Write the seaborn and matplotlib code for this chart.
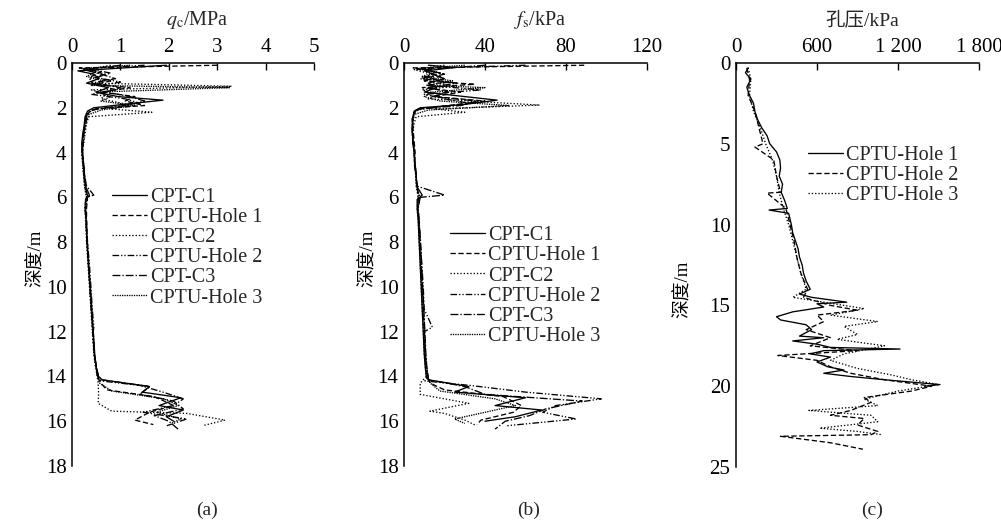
import matplotlib
matplotlib.use("Agg")
import matplotlib.pyplot as plt
import seaborn as sns
import pandas as pd

# ---------------- data ----------------
# CPT-C1
d_c1 = [0.1, 0.2, 0.35, 0.5, 0.7, 0.9, 1.1, 1.3, 1.5, 1.66, 1.85, 2.0, 2.15, 2.4, 2.8, 3.2, 3.6, 4.0, 4.5, 5.0,
        5.5, 5.9, 6.1, 6.5, 7.0, 8.0, 9.0, 10.0, 11.0, 12.0, 13.0, 13.6, 14.0, 14.15, 14.45, 14.7, 14.95, 15.3,
        15.5, 15.8, 16.0]
qc_c1 = [1.95, 1.2, 0.12, 0.45, 0.55, 0.3, 0.75, 0.5, 0.95, 1.88, 1.05, 0.45, 0.32, 0.27, 0.25, 0.22, 0.2, 0.21,
         0.24, 0.26, 0.28, 0.36, 0.28, 0.27, 0.29, 0.31, 0.34, 0.38, 0.41, 0.44, 0.47, 0.5, 0.55, 0.62, 1.6, 1.45,
         2.25, 1.8, 2.3, 1.95, 2.1]
fs_c1 = [12, 25, 11, 14, 20, 12, 16, 10, 30, 46, 30, 8, 5, 4.5, 4, 4.2, 4.5, 5, 5.5, 6, 6.2, 9, 6.5, 6.5, 7, 7.5,
         8, 8.5, 9, 9.5, 10, 10.5, 11, 12, 32, 25, 60, 45, 68, 55, 40]

# CPTU-Hole 1
d_h1 = [0.1, 0.22, 0.4, 0.6, 0.8, 0.95, 1.1, 1.3, 1.5, 1.7, 1.9, 2.05, 2.2, 2.5, 3.0, 3.5, 4.0, 4.5, 5.0, 5.5,
        6.0, 6.5, 7.0, 8.0, 9.0, 10.0, 11.0, 12.0, 13.0, 13.5, 14.0, 14.3, 14.6, 14.9, 15.3, 15.6, 15.95, 16.15]
qc_h1 = [3.0, 0.15, 0.6, 0.4, 0.8, 0.5, 1.2, 0.6, 1.3, 1.1, 1.5, 0.5, 0.35, 0.3, 0.25, 0.23, 0.22, 0.24, 0.25,
         0.28, 0.32, 0.3, 0.3, 0.32, 0.35, 0.37, 0.4, 0.43, 0.46, 0.5, 0.52, 0.6, 0.72, 1.7, 2.1, 1.6, 1.3, 1.68]
fs_h1 = [89, 4.5, 12, 18, 10, 35, 9, 28, 15, 40, 22, 7, 5, 4, 4.5, 5, 5.5, 5, 6, 6.5, 7, 6.8, 7.2, 8, 8.5, 9,
         9.5, 10, 10.5, 11, 11.5, 13, 20, 49, 58, 54, 38, 36]

# CPT-C2
d_c2 = [0.1, 0.3, 0.5, 0.7, 0.9, 1.04, 1.2, 1.4, 1.6, 1.88, 2.05, 2.2, 2.4, 2.7, 3.0, 3.5, 4.0, 4.5, 5.0, 5.5,
        6.0, 6.5, 7.0, 8.0, 9.0, 10.0, 11.0, 12.0, 13.0, 13.5, 14.0, 14.3, 14.8, 15.2, 15.55, 15.65, 15.95, 16.2]
qc_c2 = [0.8, 0.3, 0.7, 0.35, 0.5, 3.3, 0.4, 0.7, 0.6, 1.2, 0.8, 1.65, 0.35, 0.3, 0.28, 0.25, 0.2, 0.22, 0.24,
         0.26, 0.3, 0.27, 0.28, 0.3, 0.33, 0.36, 0.39, 0.42, 0.45, 0.48, 0.52, 0.54, 0.55, 0.54, 0.82, 2.37, 3.16,
         2.7]
fs_c2 = [20, 5, 14, 8, 16, 25, 9, 18, 12, 67, 15, 30, 6, 5, 4.5, 4.5, 5, 5.2, 5.8, 6, 7, 6.5, 7, 7.5, 8, 8.5, 9,
         9.5, 10, 10.5, 11, 8, 8, 32, 12.8, 20, 30, 35.8]

# CPTU-Hole 2
d_h2 = [0.1, 0.25, 0.45, 0.65, 0.85, 1.0, 1.2, 1.4, 1.6, 1.8, 1.95, 2.1, 2.3, 2.6, 3.0, 3.5, 4.0, 4.5, 5.0, 5.5,
        6.0, 6.5, 7.0, 8.0, 9.0, 10.0, 11.0, 11.8, 12.0, 13.0, 13.5, 14.0, 14.2, 14.4, 14.7, 15.0, 15.3, 15.6,
        15.9, 16.2]
qc_h2 = [1.5, 0.3, 0.8, 0.5, 1.0, 0.6, 0.9, 0.4, 1.1, 1.4, 0.9, 0.4, 0.3, 0.28, 0.24, 0.22, 0.2, 0.23, 0.25,
         0.27, 0.33, 0.28, 0.3, 0.32, 0.36, 0.39, 0.42, 0.45, 0.44, 0.46, 0.5, 0.53, 0.6, 1.4, 1.88, 2.3, 2.1,
         1.47, 2.37, 1.96]
fs_h2 = [60, 8, 18, 10, 22, 12, 38, 10, 20, 32, 18, 6, 5, 4.5, 4, 4.3, 5, 5.5, 6, 6.3, 8, 7, 7.5, 8, 8.8, 9.5,
         10, 14, 10, 10.5, 11, 12, 10.3, 32.5, 60, 97.4, 75, 68.5, 85, 51]

# CPT-C3
d_c3 = [0.1, 0.3, 0.5, 0.7, 0.9, 1.1, 1.3, 1.5, 1.7, 1.9, 2.05, 2.2, 2.5, 3.0, 3.5, 4.0, 4.5, 5.0, 5.5, 5.9,
        6.0, 6.2, 6.5, 7.0, 8.0, 9.0, 10.0, 11.0, 12.0, 13.0, 13.5, 14.0, 14.15, 14.45, 14.8, 15.1, 15.45,
        15.75, 16.0, 16.35]
qc_c3 = [1.0, 0.25, 0.6, 0.9, 0.4, 1.0, 0.7, 1.2, 1.5, 1.1, 0.5, 0.33, 0.28, 0.25, 0.23, 0.22, 0.24, 0.26, 0.3,
         0.45, 0.3, 0.28, 0.27, 0.29, 0.31, 0.34, 0.37, 0.4, 0.43, 0.46, 0.49, 0.55, 0.61, 1.61, 1.4, 2.1, 2.3,
         1.7, 2.0, 2.19]
fs_c3 = [40, 10, 20, 9, 26, 12, 22, 14, 36, 28, 8, 5, 4.2, 4, 4.4, 5, 5.3, 5.8, 6.5, 20, 8, 7, 6.8, 7.4, 8.2,
         8.7, 9.2, 9.8, 10.3, 10.8, 11.2, 11.8, 12, 30, 40, 88, 70, 62, 50, 45]

# CPTU-Hole 3
d_h3 = [0.1, 0.25, 0.4, 0.6, 0.8, 1.0, 1.1, 1.3, 1.5, 1.7, 1.9, 2.1, 2.3, 2.6, 3.0, 3.5, 4.0, 4.5, 5.0, 5.5,
        6.0, 6.5, 7.0, 8.0, 9.0, 10.0, 11.0, 12.0, 13.0, 13.5, 14.0, 14.3, 14.65, 15.0, 15.3, 15.6, 15.9, 16.1]
qc_h3 = [1.2, 0.2, 0.5, 0.3, 0.65, 0.4, 3.25, 0.5, 0.8, 0.6, 1.3, 0.6, 0.35, 0.3, 0.26, 0.24, 0.21, 0.22, 0.24,
         0.26, 0.3, 0.28, 0.29, 0.31, 0.34, 0.37, 0.4, 0.43, 0.46, 0.49, 0.53, 0.57, 0.82, 1.9, 2.2, 1.75, 2.25,
         2.05]
fs_h3 = [30, 6, 16, 9, 24, 11, 40, 14, 10, 18, 52, 12, 5, 4.5, 4.2, 4.6, 5.2, 5.4, 6, 6.4, 7.5, 7, 7.3, 7.8,
         8.4, 9, 9.6, 10.2, 10.6, 11, 11.6, 13, 17.7, 45, 55, 40, 25, 30]

# Pore pressure (panel c)
du_h1 = [0.3, 0.6, 1.0, 1.5, 2.0, 2.5, 3.0, 3.5, 4.0, 4.5, 5.0, 5.5, 6.0, 6.5, 7.0, 7.5, 8.0, 8.5, 9.0, 9.1,
         9.3, 10.0, 10.5, 11.0, 11.5, 12.0, 12.5, 13.0, 13.5, 14.0, 14.3, 14.5, 14.8, 14.9, 15.1, 15.4, 15.7,
         15.9, 16.2, 16.5, 16.9, 17.0, 17.2, 17.4, 17.6, 17.7, 17.8, 18.0, 18.2, 18.5, 18.8, 19.0, 19.2, 19.4,
         19.6, 19.9, 20.0]
u_h1 = [90, 70, 110, 80, 100, 130, 140, 160, 190, 230, 250, 300, 325, 330, 320, 345, 335, 360, 380, 245, 390,
        410, 420, 440, 460, 470, 490, 500, 520, 550, 470, 560, 820, 600, 650, 420, 300, 330, 520, 560, 470, 650,
        420, 600, 700, 1215, 650, 550, 700, 600, 680, 800, 650, 850, 1100, 1511, 1400]
du_h2 = [0.3, 1.0, 2.0, 3.0, 4.0, 5.0, 5.2, 6.0, 7.0, 8.0, 8.05, 9.0, 10.0, 11.0, 12.0, 13.0, 14.0, 14.5, 15.0,
         15.3, 15.6, 16.0, 16.5, 17.0, 17.5, 17.8, 18.1, 18.4, 18.8, 19.2, 19.6, 20.0, 20.3, 20.7, 21.0, 21.5,
         21.8, 22.0, 22.4, 22.8, 23.0, 23.1, 23.5, 23.9]
u_h2 = [80, 100, 90, 140, 170, 200, 140, 280, 300, 330, 230, 370, 400, 430, 450, 480, 530, 500, 700, 900, 600,
        650, 520, 700, 550, 900, 310, 600, 700, 850, 1100, 1450, 1300, 950, 1000, 850, 700, 950, 900, 1050, 1000,
        330, 700, 940]
du_h3 = [0.3, 1.0, 2.0, 3.0, 4.0, 5.0, 6.0, 7.0, 8.0, 9.0, 10.0, 11.0, 12.0, 13.0, 14.0, 14.5, 14.8, 15.2, 15.6,
         16.0, 16.3, 16.8, 17.1, 17.5, 18.0, 18.4, 18.9, 19.3, 19.6, 19.9, 20.3, 20.8, 21.2, 21.5, 21.8, 22.2,
         22.6, 22.8, 23.0]
u_h3 = [90, 110, 100, 130, 180, 220, 270, 300, 320, 350, 390, 420, 450, 480, 520, 420, 650, 950, 700, 1050, 800,
        900, 750, 1100, 800, 700, 900, 1150, 1300, 1500, 1200, 950, 1050, 540, 1000, 1050, 620, 900, 1080]

names_ab = ["CPT-C1", "CPTU-Hole 1", "CPT-C2", "CPTU-Hole 2", "CPT-C3", "CPTU-Hole 3"]
names_c = ["CPTU-Hole 1", "CPTU-Hole 2", "CPTU-Hole 3"]
qc_ticks = [0, 1, 2, 3, 4, 5]
fs_ticks = [0, 40, 80, 120]
u_ticks = [0, 600, 1200, 1800]
u_tick_labels = ["0", "600", "1 200", "1 800"]
depth_ticks_ab = [0, 2, 4, 6, 8, 10, 12, 14, 16, 18]
depth_ticks_c = [0, 5, 10, 15, 20, 25]

# ---------------- styling ----------------
sns.set_theme(style="white")
plt.rcParams["font.family"] = ["Liberation Serif", "Noto Sans CJK SC"]
plt.rcParams["mathtext.fontset"] = "stix"
plt.rcParams["axes.unicode_minus"] = False

styles_ab = ["-", (0, (4, 2)), (0, (1, 1.5)), (0, (5, 1.5, 1, 1.5, 1, 1.5)), (0, (6, 1.5, 1, 1.5)), (0, (1, 0.8))]
styles_c = ["-", (0, (4, 2)), (0, (1, 1.5))]

W, H = 1001, 522
fig = plt.figure(figsize=(W / 100, H / 100), dpi=100)
ax_a = fig.add_axes([72 / W, 1 - 466 / H, 242 / W, 403 / H])
ax_b = fig.add_axes([404 / W, 1 - 466 / H, 243 / W, 403 / H])
ax_c = fig.add_axes([736 / W, 1 - 467 / H, 243 / W, 404 / H])

depths_ab = [d_c1, d_h1, d_c2, d_h2, d_c3, d_h3]
qcs = [qc_c1, qc_h1, qc_c2, qc_h2, qc_c3, qc_h3]
fss = [fs_c1, fs_h1, fs_c2, fs_h2, fs_c3, fs_h3]


def draw(ax, depths, vals, names, styles):
    for d, v, n, ls in zip(depths, vals, names, styles):
        df = pd.DataFrame({"v": v, "d": d})
        sns.lineplot(data=df, x="v", y="d", sort=False, estimator=None, color="black",
                     linewidth=0.95, linestyle=ls, label=n, ax=ax)


draw(ax_a, depths_ab, qcs, names_ab, styles_ab)
draw(ax_b, depths_ab, fss, names_ab, styles_ab)
draw(ax_c, [du_h1, du_h2, du_h3], [u_h1, u_h2, u_h3], names_c, styles_c)

ax_a.set_xlim(0, 5)
ax_a.set_xticks(qc_ticks)
ax_a.set_ylim(18, 0)
ax_a.set_yticks(depth_ticks_ab)
ax_b.set_xlim(0, 120)
ax_b.set_xticks(fs_ticks)
ax_b.set_ylim(18, 0)
ax_b.set_yticks(depth_ticks_ab)
ax_c.set_xlim(0, 1800)
ax_c.set_xticks(u_ticks)
ax_c.set_xticklabels(u_tick_labels)
ax_c.set_ylim(25, 0)
ax_c.set_yticks(depth_ticks_c)

leg_pos = {ax_a: (0.165, 0.69), ax_b: (0.189, 0.595), ax_c: (0.296, 0.795)}
ylab_pos = {ax_a: (-0.112, 0.515), ax_b: (-0.112, 0.515), ax_c: (-0.181, 0.44)}

for ax in (ax_a, ax_b, ax_c):
    ax.xaxis.tick_top()
    ax.tick_params(axis="both", direction="in", length=5, width=1.0, labelsize=15, pad=4, colors="black")
    ax.tick_params(axis="x", top=True, bottom=False)
    for s in ("right", "bottom"):
        ax.spines[s].set_visible(False)
    for s in ("top", "left"):
        ax.spines[s].set_color("black")
        ax.spines[s].set_linewidth(1.1)
    ax.set_xlabel("")
    ax.set_ylabel("深度/m", fontsize=13.5, color="black")
    ax.yaxis.set_label_coords(*ylab_pos[ax])
    ax.legend(loc="upper left", bbox_to_anchor=leg_pos[ax], frameon=False, fontsize=14.5,
              handlelength=1.75, handletextpad=0.15, labelspacing=0.05, borderpad=0, borderaxespad=0)

fig.text(197 / W, 1 - 20 / H, r"$q_{\mathrm{c}}$/MPa", ha="center", va="center", fontsize=14.5)
fig.text(540 / W, 1 - 20 / H, r"$f_{\mathrm{s}}$/kPa", ha="center", va="center", fontsize=14.5)
fig.text(862 / W, 1 - 20 / H, "孔压/kPa", ha="center", va="center", fontsize=14)
fig.text(207 / W, 1 - 510 / H, "(a)", ha="center", va="center", fontsize=14)
fig.text(529 / W, 1 - 510 / H, "(b)", ha="center", va="center", fontsize=14)
fig.text(872 / W, 1 - 510 / H, "(c)", ha="center", va="center", fontsize=14)

fig.savefig("out.png", dpi=100)
